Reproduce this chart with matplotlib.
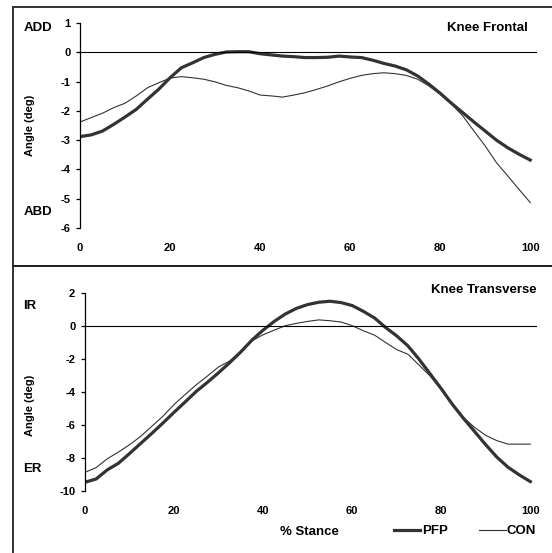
import numpy as np
import matplotlib
matplotlib.use('Agg')
import matplotlib.pyplot as plt
from matplotlib.patches import Rectangle

plt.rcParams['font.family'] = ['Liberation Sans', 'DejaVu Sans']
plt.rcParams['font.weight'] = 'bold'
plt.rcParams['font.size'] = 8
plt.rcParams['axes.unicode_minus'] = False

# % stance sample points (every 2.5 %)
stance = np.arange(0, 100.1, 2.5)

# knee frontal plane angle (deg)
frontal_pfp = [-2.88, -2.82, -2.69, -2.46, -2.21, -1.95, -1.6, -1.26, -0.87, -0.53,
               -0.36, -0.18, -0.07, 0.01, 0.02, 0.02, -0.05, -0.09, -0.13, -0.15,
               -0.18, -0.18, -0.17, -0.13, -0.16, -0.18, -0.27, -0.38, -0.47, -0.6,
               -0.81, -1.09, -1.4, -1.74, -2.06, -2.38, -2.69, -3.0, -3.26, -3.48, -3.68]
frontal_con = [-2.38, -2.23, -2.08, -1.89, -1.74, -1.49, -1.21, -1.04, -0.88, -0.83,
               -0.87, -0.92, -1.01, -1.13, -1.21, -1.32, -1.46, -1.49, -1.53, -1.46,
               -1.38, -1.27, -1.15, -1.01, -0.89, -0.79, -0.73, -0.7, -0.73, -0.79,
               -0.92, -1.15, -1.43, -1.77, -2.17, -2.69, -3.2, -3.77, -4.22, -4.68, -5.13]

# knee transverse plane angle (deg)
trans_pfp = [-9.47, -9.27, -8.72, -8.32, -7.73, -7.12, -6.51, -5.88, -5.23, -4.6,
             -3.96, -3.41, -2.83, -2.22, -1.57, -0.85, -0.25, 0.28, 0.73, 1.07,
             1.3, 1.44, 1.5, 1.42, 1.24, 0.89, 0.49, -0.09, -0.6, -1.2,
             -2.01, -2.9, -3.8, -4.75, -5.6, -6.4, -7.2, -7.95, -8.56, -9.02, -9.43]
trans_con = [-8.87, -8.58, -8.05, -7.64, -7.2, -6.69, -6.08, -5.47, -4.76, -4.15,
             -3.56, -3.03, -2.48, -2.12, -1.51, -0.9, -0.53, -0.25, 0.02, 0.16,
             0.28, 0.37, 0.32, 0.24, 0.02, -0.29, -0.55, -1.0, -1.43, -1.71,
             -2.36, -3.03, -3.85, -4.7, -5.55, -6.15, -6.63, -6.95, -7.16, -7.16, -7.16]

xticks = [0, 20, 40, 60, 80, 100]
frontal_yticks = [1, 0, -1, -2, -3, -4, -5, -6]
trans_yticks = [2, 0, -2, -4, -6, -8, -10]

W, H = 552, 553
fig = plt.figure(figsize=(W / 100, H / 100), dpi=100)
fig.patch.set_facecolor('white')

def px(x0, y0, x1, y1):
    # pixel box (top-left origin) -> figure fraction rect
    return [x0 / W, 1 - y1 / H, (x1 - x0) / W, (y1 - y0) / H]

def style_axis(ax, yticks, ylim):
    ax.set_xlim(0, 101.5)
    ax.set_ylim(*ylim)
    for s in ['top', 'right', 'bottom']:
        ax.spines[s].set_visible(False)
    ax.spines['left'].set_linewidth(0.9)
    ax.set_xticks(xticks)
    ax.set_yticks(yticks)
    ax.tick_params(axis='x', length=0, pad=11)
    ax.tick_params(axis='y', length=3, width=0.9, pad=4, direction='out')
    ax.axhline(0, color='black', lw=0.8)
    ax.patch.set_alpha(0)

line_col = '#333333'

# top panel
ax1 = fig.add_axes(px(80, 23, 537, 228))
ax1.plot(stance, frontal_pfp, color=line_col, lw=2.3)
ax1.plot(stance, frontal_con, color=line_col, lw=0.8)
style_axis(ax1, frontal_yticks, (-6, 1))

# bottom panel
ax2 = fig.add_axes(px(85, 293, 537, 491))
h1, = ax2.plot(stance, trans_pfp, color=line_col, lw=2.3)
h2, = ax2.plot(stance, trans_con, color=line_col, lw=0.8)
style_axis(ax2, trans_yticks, (-10, 2))

# panel frames
fig.add_artist(Rectangle((13 / W, 1 - 266 / H), 1, 259 / H, transform=fig.transFigure,
                         fill=False, lw=1.3, ec='#222222'))
fig.add_artist(Rectangle((13 / W, -0.1), 1, 1 - 266 / H + 0.1, transform=fig.transFigure,
                         fill=False, lw=1.3, ec='#222222'))

# text labels
big = 9.5
fig.text(30 / W, 1 - 125 / H, 'Angle (deg)', rotation=90, ha='center', va='center')
fig.text(30 / W, 1 - 405 / H, 'Angle (deg)', rotation=90, ha='center', va='center')
fig.text(38 / W, 1 - 28 / H, 'ADD', ha='center', va='center', fontsize=big)
fig.text(38 / W, 1 - 212 / H, 'ABD', ha='center', va='center', fontsize=big)
fig.text(23 / W, 1 - 306 / H, 'IR', ha='left', va='center', fontsize=big)
fig.text(23 / W, 1 - 469 / H, 'ER', ha='left', va='center', fontsize=big)
fig.text(528 / W, 1 - 28 / H, 'Knee Frontal', ha='right', va='center', fontsize=big)
fig.text(537 / W, 1 - 290 / H, 'Knee Transverse', ha='right', va='center', fontsize=big)
fig.text(309 / W, 1 - 532 / H, '% Stance', ha='center', va='center', fontsize=big)

fig.legend([h1, h2], ['PFP', 'CON'], ncol=2, frameon=False, loc='center left',
           bbox_to_anchor=(394 / W, 1 - 531 / H), borderpad=0, borderaxespad=0,
           handlelength=2.0, handletextpad=0.1, columnspacing=2.4, fontsize=big)

fig.savefig('out.png', dpi=100, facecolor='white')
